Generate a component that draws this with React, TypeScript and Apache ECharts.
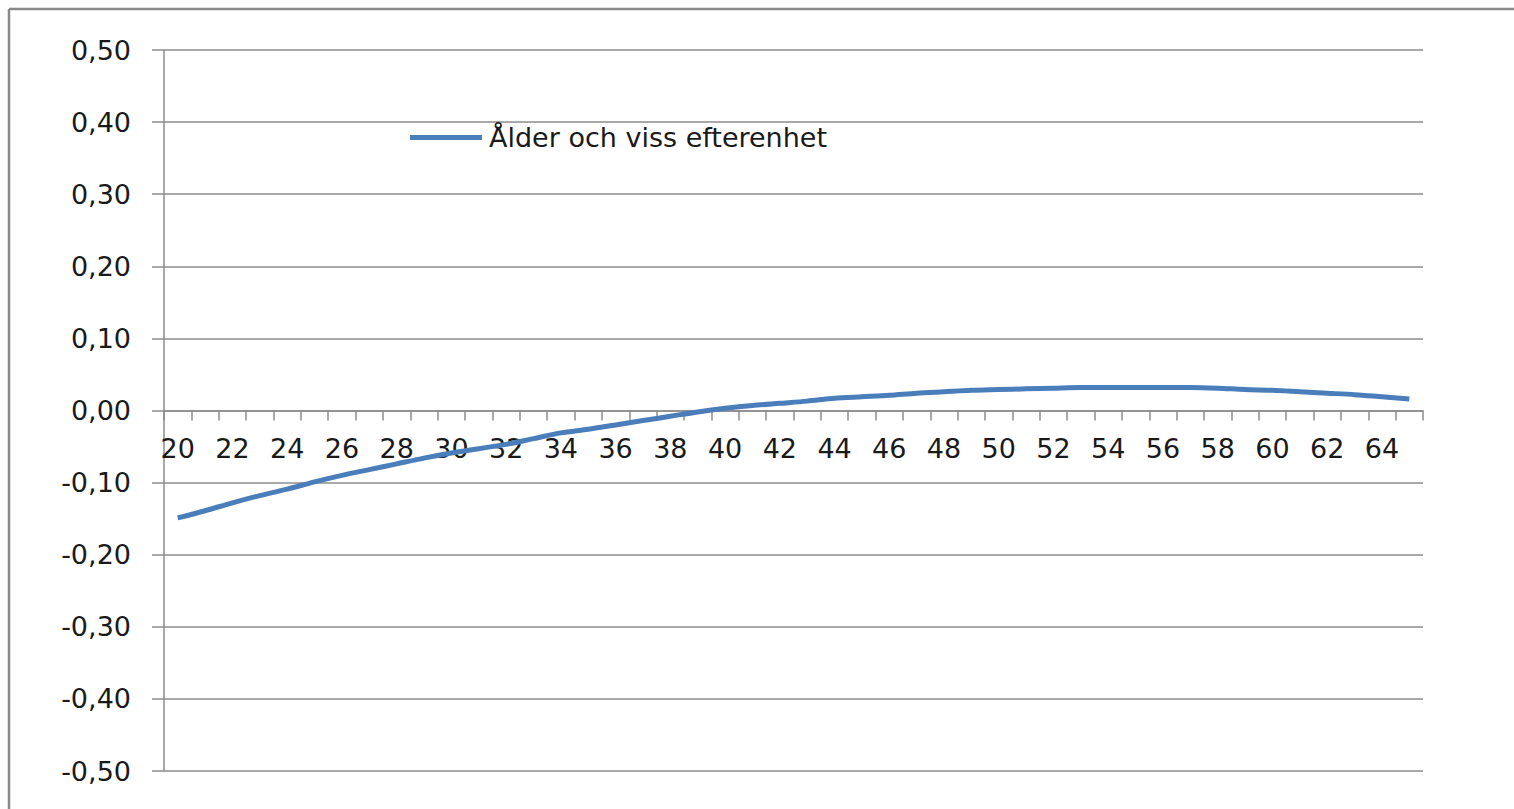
import React, { useEffect, useRef } from "react";
import * as echarts from "echarts";

const ages: string[] = [
  "20","21","22","23","24","25","26","27","28","29",
  "30","31","32","33","34","35","36","37","38","39",
  "40","41","42","43","44","45","46","47","48","49",
  "50","51","52","53","54","55","56","57","58","59",
  "60","61","62","63","64","65",
];

const values: number[] = [
  -0.149, -0.139, -0.128, -0.118, -0.109, -0.099, -0.090, -0.082, -0.074, -0.066,
  -0.059, -0.053, -0.047, -0.039, -0.031, -0.026, -0.020, -0.014, -0.008, -0.002,
  0.003, 0.007, 0.010, 0.013, 0.017, 0.019, 0.021, 0.024, 0.026, 0.028,
  0.029, 0.030, 0.031, 0.032, 0.032, 0.032, 0.032, 0.032, 0.031, 0.029,
  0.028, 0.026, 0.024, 0.022, 0.019, 0.016,
];

const seriesName = "Ålder och viss efterenhet";
const yMin = -0.5;
const yMax = 0.5;
const yStep = 0.1;

const FONT = "'DejaVu Sans', Verdana, sans-serif";
const TEXT = "#1a1a1a";
const GRID = "#8c8c8c";

function fmt(v: number): string {
  let r = Math.round(v * 100) / 100;
  if (Math.abs(r) < 1e-9) r = 0;
  return r.toFixed(2).replace(".", ",");
}

export default function App() {
  const ref = useRef<HTMLDivElement>(null);
  useEffect(() => {
    if (!ref.current) return;
    const chart = echarts.init(ref.current, undefined, { renderer: "svg" });
    chart.setOption({
      animation: false,
      backgroundColor: "#ffffff",
      graphic: [
        {
          type: "line",
          shape: { x1: 9, y1: 9, x2: 9, y2: 820 },
          style: { stroke: "#8a8a8a", lineWidth: 2.5 },
          silent: true,
        },
        {
          type: "line",
          shape: { x1: 9, y1: 9, x2: 1520, y2: 9 },
          style: { stroke: "#8a8a8a", lineWidth: 2.5 },
          silent: true,
        },
      ],
      legend: {
        show: true,
        left: 410,
        top: 124,
        padding: 0,
        icon: "rect",
        itemWidth: 72,
        itemHeight: 5,
        itemGap: 8,
        textStyle: { fontFamily: FONT, fontSize: 27, color: TEXT, padding: [0, 0, 0, 2] },
        data: [seriesName],
      },
      grid: {
        left: 164,
        right: 91,
        top: 50,
        bottom: 38,
        containLabel: false,
        outerBoundsMode: "none",
      },
      xAxis: {
        type: "category",
        data: ages,
        boundaryGap: true,
        axisLine: { onZero: true, lineStyle: { color: GRID, width: 1.5 } },
        axisTick: { show: true, interval: 0, length: 10, alignWithLabel: false, lineStyle: { color: GRID, width: 1.5 } },
        axisLabel: {
          interval: 1,
          margin: -336,
          fontFamily: FONT,
          fontSize: 27,
          color: TEXT,
        },
        splitLine: { show: false },
      },
      yAxis: {
        type: "value",
        min: yMin,
        max: yMax,
        interval: yStep,
        axisLine: { show: true, lineStyle: { color: GRID, width: 1.5 } },
        axisTick: { show: true, length: 12, lineStyle: { color: GRID, width: 1.5 } },
        axisLabel: {
          margin: 33,
          fontFamily: FONT,
          fontSize: 27,
          color: TEXT,
          formatter: (v: number) => fmt(v),
        },
        splitLine: { show: true, lineStyle: { color: GRID, width: 1.5 } },
      },
      series: [
        {
          name: seriesName,
          type: "line",
          data: values,
          showSymbol: false,
          symbol: "none",
          smooth: 0.3,
          lineStyle: { color: "#4a7ebb", width: 5 },
          itemStyle: { color: "#4a7ebb" },
          z: 5,
        },
      ],
    });
    return () => chart.dispose();
  }, []);
  return (
    <div
      ref={ref}
      style={{ position: "fixed", left: 0, top: 0, width: 1514, height: 809, background: "#fff" }}
    />
  );
}
